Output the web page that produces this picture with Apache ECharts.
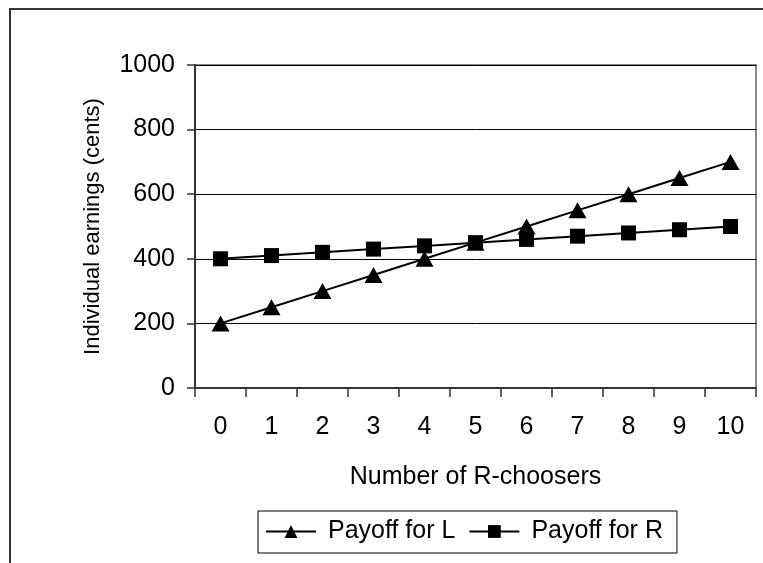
<!DOCTYPE html>
<html>
<head>
<meta charset="utf-8">
<script src="https://cdn.jsdelivr.net/npm/echarts@6/dist/echarts.min.js"></script>
<style>
  html, body { margin: 0; padding: 0; background: #fff; }
  #chart { width: 763px; height: 563px; }
</style>
</head>
<body>
<div id="chart"></div>
<script>
// Number of R-choosers on the x axis
const categories = ['0', '1', '2', '3', '4', '5', '6', '7', '8', '9', '10'];
// Individual earnings (cents) for each choice
const payoffL = [200, 250, 300, 350, 400, 450, 500, 550, 600, 650, 700];
const payoffR = [400, 410, 420, 430, 440, 450, 460, 470, 480, 490, 500];
const yTicks = { min: 0, max: 1000, interval: 200 };

const FONT = 'Liberation Sans, Arial, sans-serif';
const chart = echarts.init(document.getElementById('chart'), null, { renderer: 'canvas' });

chart.setOption({
  backgroundColor: '#fff',
  animation: false,
  textStyle: { fontFamily: FONT, color: '#000' },
  graphic: [{
    type: 'rect',
    shape: { x: 10, y: 9, width: 800, height: 600 },
    style: { fill: 'none', stroke: '#333', lineWidth: 2 },
    silent: true,
    z: -10
  }],
  grid: {
    left: 195, top: 65, right: 7, bottom: 175,
    show: true, borderColor: '#888', borderWidth: 2, backgroundColor: 'transparent'
  },
  legend: {
    bottom: 10,
    left: 258,
    data: ['Payoff for L', 'Payoff for R'],
    itemWidth: 50,
    itemHeight: 16,
    itemGap: 13,
    padding: [8, 14, 9, 7],
    borderColor: '#000',
    borderWidth: 1,
    borderRadius: 0,
    backgroundColor: '#fff',
    textStyle: { fontFamily: FONT, fontSize: 25, color: '#000', padding: [0, 0, 0, 7] }
  },
  xAxis: {
    type: 'category',
    data: categories,
    boundaryGap: true,
    name: 'Number of R-choosers',
    nameLocation: 'middle',
    nameGap: 77,
    nameTextStyle: { fontFamily: FONT, fontSize: 25, color: '#000' },
    axisLine: { lineStyle: { color: '#333', width: 2 } },
    axisTick: { show: true, length: 9, lineStyle: { color: '#333', width: 1.5 } },
    axisLabel: { fontFamily: FONT, fontSize: 25, color: '#000', margin: 27 },
    splitLine: { show: false }
  },
  yAxis: {
    type: 'value',
    min: yTicks.min,
    max: yTicks.max,
    interval: yTicks.interval,
    name: 'Individual earnings (cents)',
    nameLocation: 'middle',
    nameGap: 91,
    nameTextStyle: { fontFamily: FONT, fontSize: 22, color: '#000' },
    axisLine: { show: true, lineStyle: { color: '#333', width: 2 } },
    axisTick: { show: true, length: 8, lineStyle: { color: '#333', width: 1.5 } },
    axisLabel: {
      fontFamily: FONT, fontSize: 25, color: '#000', margin: 20,
      formatter: (v) => String(v)
    },
    splitLine: { show: true, lineStyle: { color: '#000', width: 1 } }
  },
  series: [
    {
      name: 'Payoff for L',
      type: 'line',
      data: payoffL,
      symbol: 'triangle',
      symbolSize: [18, 16],
      itemStyle: { color: '#000' },
      lineStyle: { color: '#000', width: 2 },
      z: 3
    },
    {
      name: 'Payoff for R',
      type: 'line',
      data: payoffR,
      symbol: 'rect',
      symbolSize: 15,
      itemStyle: { color: '#000' },
      lineStyle: { color: '#000', width: 2 },
      z: 3
    }
  ]
});
</script>
</body>
</html>
